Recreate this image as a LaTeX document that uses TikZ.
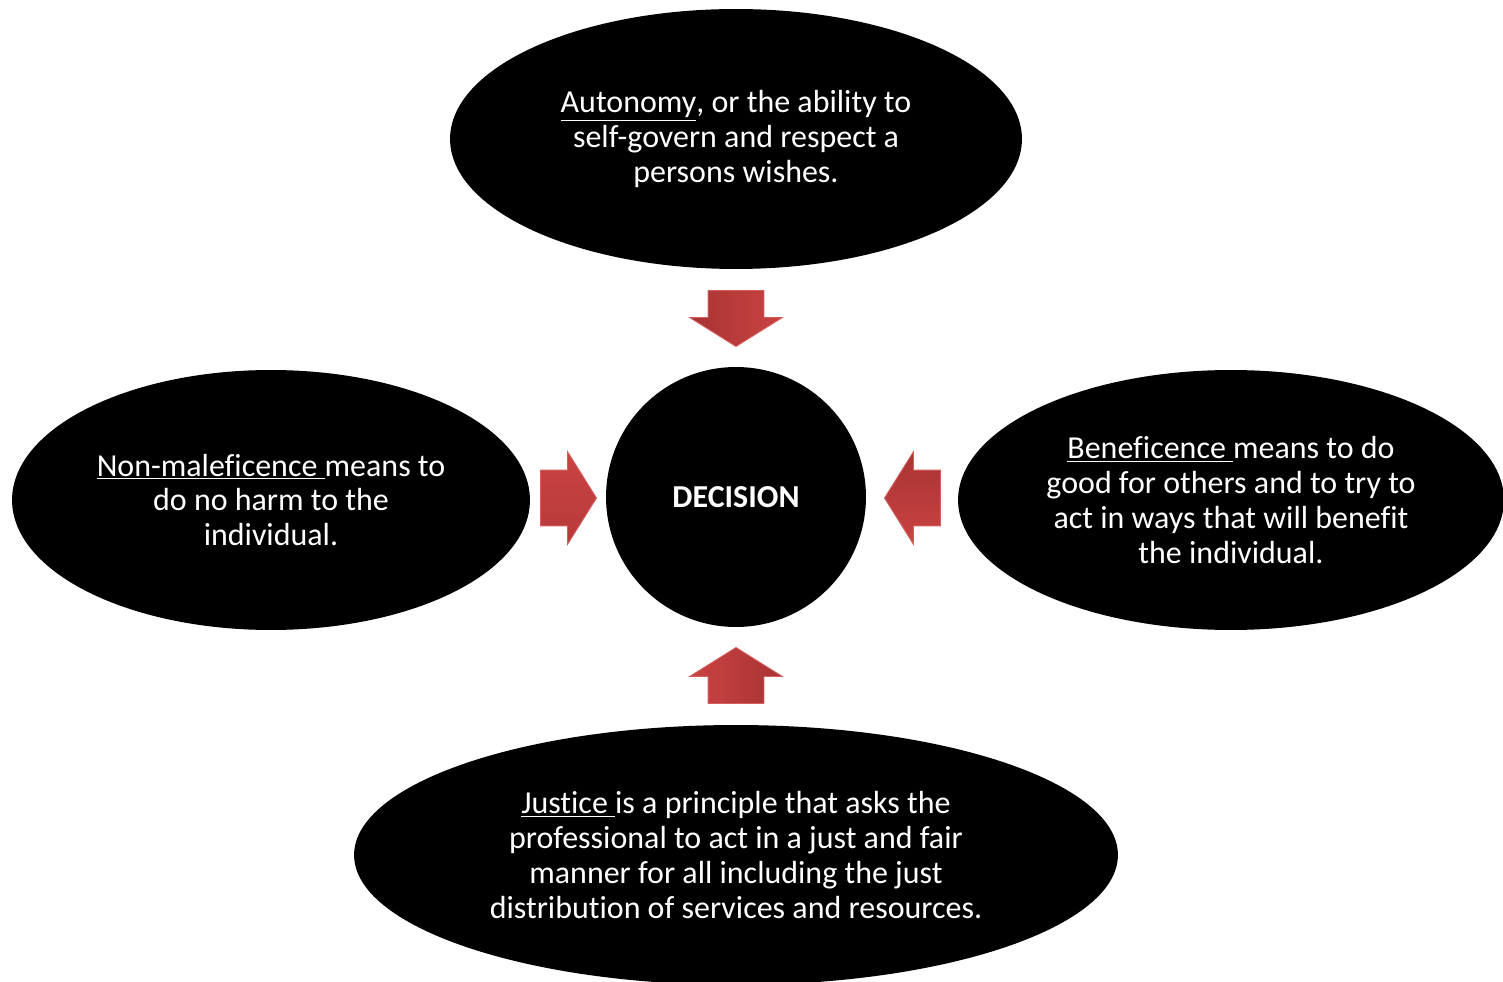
\documentclass[tikz,border=0pt]{standalone}
\usepackage{fontspec}
\setmainfont{Carlito}[Ligatures=CommonOff]
\usetikzlibrary{shapes.geometric, shapes.arrows, positioning}
\definecolor{arrowlight}{HTML}{CB4343}
\definecolor{arrowdark}{HTML}{A83333}

\begin{document}
\begin{tikzpicture}[x=0.02cm, y=-0.02cm,
	oval/.style={ellipse, fill=black, text=white, inner sep=0pt, align=center,
		minimum height=5.2cm, font=\fontsize{18.2}{19.85}\selectfont},
	bigarrow/.style={single arrow, anchor=tip, inner xsep=0pt, inner ysep=0.55cm,
		draw=arrowlight!85!white, line width=0.5pt,
		minimum height=1.12cm, minimum width=0.5cm,
		single arrow head extend=0.37cm, single arrow tip angle=116}]
	\useasboundingbox (0,0) rectangle (1503,982);
	% the four principles
	\node[oval, minimum width=11.44cm] (autonomy) at (736,139)
		{\underline{Autonomy}, or the ability to\\ self-govern and respect a\\ persons wishes.};
	\node[oval, minimum width=10.36cm] (nonmal) at (271,500)
		{\underline{Non-maleficence }means to\\ do no harm to the\\ individual.};
	\node[oval, minimum width=10.92cm] (benef) at (1231,500)
		{\underline{Beneficence }means to do\\ good for others and to try to\\ act in ways that will benefit\\ the individual.};
	\node[oval, minimum width=15.28cm] (justice) at (736,855)
		{\underline{Justice }is a principle that asks the\\ professional to act in a just and fair\\ manner for all including the just\\ distribution of services and resources.};
	% centre
	\node[oval, minimum width=5.2cm, font=\fontsize{18.2}{19.85}\selectfont\bfseries] (decision) at (736,497) {DECISION};
	% arrows into the decision
	\node[bigarrow, rotate=-90, left color=arrowdark, right color=arrowlight] (downarrow) at (736,347) {};
	\node[bigarrow, rotate=90, left color=arrowlight, right color=arrowdark] (uparrow) at (736,647) {};
	\node[bigarrow, top color=arrowlight, bottom color=arrowdark!60!arrowlight] (rightarrow) at (597,498) {};
	\node[bigarrow, rotate=180, top color=arrowdark, bottom color=arrowlight] (leftarrow) at (884,498) {};
\end{tikzpicture}
\end{document}
